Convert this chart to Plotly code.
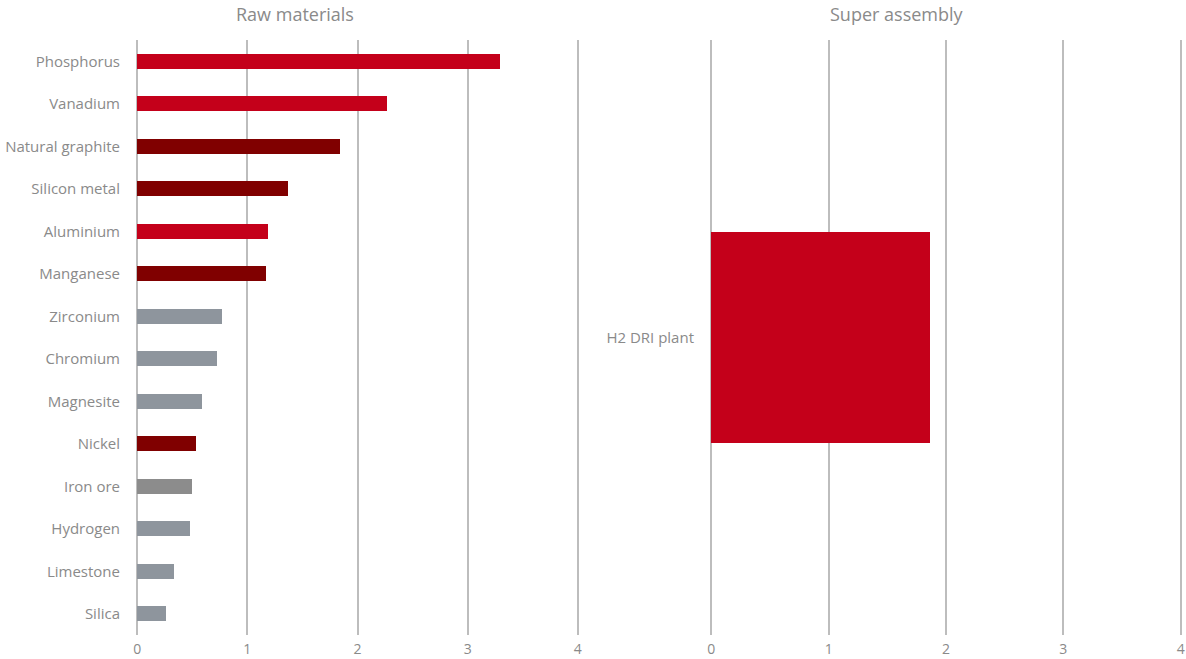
import plotly.graph_objects as go

# ---- data ----
raw_materials = ["Phosphorus", "Vanadium", "Natural graphite", "Silicon metal", "Aluminium",
                 "Manganese", "Zirconium", "Chromium", "Magnesite", "Nickel", "Iron ore",
                 "Hydrogen", "Limestone", "Silica"]
raw_values = [3.29, 2.27, 1.84, 1.37, 1.19, 1.17, 0.77, 0.72, 0.59, 0.53, 0.50, 0.48, 0.33, 0.26]

assemblies = ["H2 DRI plant"]
assembly_values = [1.86]

x_ticks = [0, 1, 2, 3, 4]

# ---- styles ----
RED = "#C4001A"
DARK = "#800000"
GREY = "#8E959D"
IRON = "#8C8C8C"
raw_colors = [RED, RED, DARK, DARK, RED, DARK, GREY, GREY, GREY, DARK, IRON, GREY, GREY, GREY]
assembly_colors = [RED]

TXT = "#8A8A8A"
GRID = "#BDBDBD"
FONT = "Open Sans"
W, H = 1186, 659
PAD = 0.02  # small range padding so edge gridlines are drawn

fig = go.Figure()
fig.add_trace(go.Bar(y=raw_materials, x=raw_values, orientation="h",
                     marker=dict(color=raw_colors, line=dict(width=0)),
                     xaxis="x", yaxis="y", width=0.35, hoverinfo="x+y"))
fig.add_trace(go.Bar(y=assemblies, x=assembly_values, orientation="h",
                     marker=dict(color=assembly_colors, line=dict(width=0)),
                     xaxis="x2", yaxis="y2", width=0.355, hoverinfo="x+y"))

xcommon = dict(range=[-PAD, 4 + PAD], tickvals=x_ticks, showgrid=True, gridcolor=GRID, gridwidth=1.5,
               zeroline=False, showline=False, ticks="", tickfont=dict(size=14, color=TXT, family=FONT),
               ticklabelstandoff=4, fixedrange=True, automargin=False)
ycommon = dict(showgrid=False, zeroline=False, showline=False, ticks="",
               tickfont=dict(size=15, color=TXT, family=FONT), ticklabelstandoff=14,
               autorange="reversed", fixedrange=True, automargin=False)

fig.update_layout(
    width=W, height=H,
    margin=dict(l=0, r=0, t=40, b=24, autoexpand=False),
    paper_bgcolor="white", plot_bgcolor="white",
    showlegend=False, bargap=0,
    font=dict(family=FONT, color=TXT),
    xaxis=dict(domain=[135 / W, 580 / W], anchor="y", **xcommon),
    yaxis=dict(domain=[0, 1], anchor="x", **ycommon),
    xaxis2=dict(domain=[709 / W, 1183 / W], anchor="y2", **xcommon),
    yaxis2=dict(domain=[0, 1], anchor="x2", **ycommon),
    annotations=[
        dict(text="Raw materials", x=295 / W, y=1.044, xref="paper", yref="paper",
             xanchor="center", yanchor="middle", showarrow=False,
             font=dict(size=18, color=TXT, family=FONT)),
        dict(text="Super assembly", x=897 / W, y=1.044, xref="paper", yref="paper",
             xanchor="center", yanchor="middle", showarrow=False,
             font=dict(size=18, color=TXT, family=FONT)),
    ],
)

fig.write_html("out.html", config={"displayModeBar": False},
               post_script="document.body.style.margin='0';")
